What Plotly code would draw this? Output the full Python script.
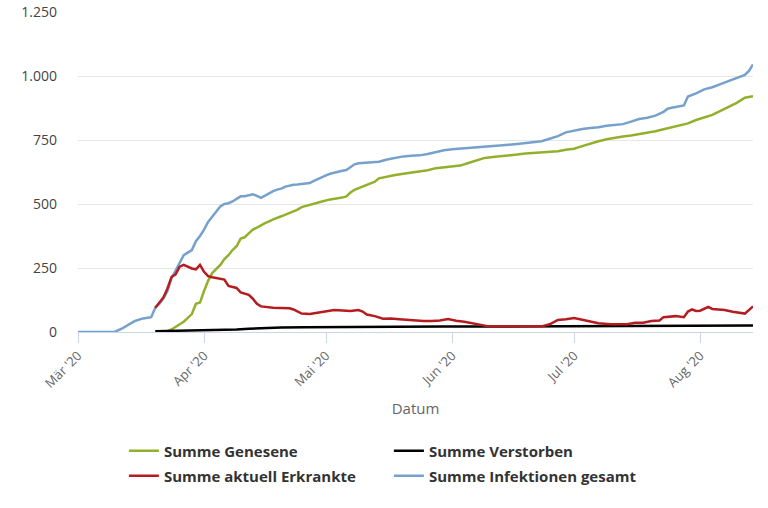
import pandas as pd
import plotly.graph_objects as go

# Tage seit dem 1. März 2020 (Tag 0 = 01.03.2020)
START = pd.Timestamp("2020-03-01")

infektionen_tag = [0, 9, 11, 12, 14, 16, 17, 18, 19, 20, 21, 22, 23, 24, 25, 26, 27, 28, 29, 30,
                   31, 32, 33, 34, 35, 36, 37, 38, 39, 40, 41, 42, 43, 44, 45, 46, 47, 48, 49, 50,
                   51, 52, 53, 54, 55, 56, 57, 58, 59, 60, 61, 62, 63, 64, 65, 66, 67, 68, 69, 70,
                   72, 74, 76, 78, 80, 82, 84, 86, 88, 90, 92, 94, 96, 98, 100, 102, 104, 106, 108,
                   110, 112, 114, 116, 118, 120, 122, 124, 126, 128, 130, 132, 134, 136, 138, 140,
                   142, 144, 145, 146, 148, 149, 150, 151, 152, 154, 156, 158, 160, 162, 164, 165, 166]
infektionen_wert = [0, 0, 15, 25, 43, 53, 55, 58, 95, 110, 131, 160, 210, 240, 275, 300, 310, 320, 355, 375,
                    400, 430, 450, 470, 490, 500, 503, 510, 520, 530, 530, 535, 538, 532, 524, 533, 542, 550, 556, 560,
                    568, 573, 575, 576, 578, 580, 582, 590, 598, 605, 612, 618, 623, 626, 630, 633, 645, 655, 659, 660,
                    661, 665, 674, 680, 686, 688, 690, 695, 703, 710, 714, 716, 720, 721, 723, 725, 727, 731, 734,
                    737, 740, 745, 755, 765, 780, 788, 793, 797, 800, 806, 810, 812, 822, 832, 837,
                    845, 860, 872, 876, 882, 885, 920, 926, 932, 948, 956, 968, 980, 990, 1004, 1020, 1045]

genesene_tag = [21, 22, 23, 24, 25, 26, 27, 28, 29, 30, 31, 32, 33, 34, 35, 36, 37, 38, 39, 40,
                41, 42, 43, 44, 45, 46, 47, 48, 50, 52, 54, 55, 56, 58, 60, 62, 64, 65, 66, 67,
                68, 70, 72, 73, 74, 76, 78, 80, 82, 84, 86, 88, 90, 92, 94, 96, 98, 100, 102, 104,
                106, 108, 110, 112, 114, 116, 118, 120, 122, 124, 126, 128, 130, 132, 134, 136, 138,
                140, 142, 144, 146, 148, 150, 152, 154, 156, 158, 160, 162, 164, 166]
genesene_wert = [0, 3, 10, 20, 30, 40, 55, 70, 110, 115, 160, 200, 230, 245, 262, 285, 300, 320, 335, 365,
                 370, 385, 400, 408, 418, 425, 432, 440, 452, 465, 478, 488, 493, 502, 510, 518, 521, 525, 530, 545,
                 555, 568, 580, 587, 600, 608, 613, 618, 622, 626, 632, 640, 643, 645, 650, 660, 670, 680, 684, 686,
                 690, 693, 697, 699, 701, 703, 706, 712, 716, 726, 737, 745, 753, 760, 764, 768, 773,
                 780, 784, 792, 800, 806, 815, 828, 838, 848, 864, 880, 895, 915, 921]

erkrankte_tag = [19, 20, 21, 22, 23, 24, 25, 26, 27, 28, 29, 30, 31, 32, 33, 34, 35, 36, 37, 38,
                 39, 40, 41, 42, 43, 44, 45, 46, 48, 50, 52, 53, 55, 57, 59, 61, 63, 65, 67, 69,
                 70, 71, 73, 75, 77, 79, 81, 83, 85, 87, 89, 91, 93, 95, 97, 99, 101, 105, 110, 114,
                 116, 118, 120, 122, 124, 126, 128, 131, 135, 137, 139, 141, 143, 144, 147, 149, 150,
                 151, 152, 153, 155, 156, 159, 161, 163, 164, 166]
erkrankte_wert = [95, 115, 135, 170, 215, 225, 255, 262, 255, 248, 245, 262, 235, 218, 214, 210, 207, 205, 180, 175,
                  172, 155, 150, 145, 130, 110, 100, 98, 95, 94, 93, 88, 72, 70, 76, 82, 86, 84, 82, 86,
                  80, 68, 62, 52, 53, 50, 47, 44, 43, 43, 45, 51, 44, 40, 33, 26, 22, 22, 21, 22,
                  30, 47, 50, 55, 48, 40, 34, 30, 30, 36, 36, 43, 45, 58, 62, 58, 80,
                  88, 82, 83, 98, 90, 86, 79, 73, 72, 100]

verstorben_tag = [19, 25, 31, 36, 39, 42, 46, 50, 56, 66, 90, 120, 150, 166]
verstorben_wert = [3, 5, 6, 7, 10, 13, 16, 18, 19, 20, 21, 22, 23, 25]

monats_ticks = ["2020-03-01", "2020-04-01", "2020-05-01", "2020-06-01", "2020-07-01", "2020-08-01"]
monats_labels = ["Mär '20", "Apr '20", "Mai '20", "Jun '20", "Jul '20", "Aug '20"]
y_ticks = [0, 250, 500, 750, 1000, 1250]
y_labels = ["0", "250", "500", "750", "1.000", "1.250"]


def to_dates(tage):
    return [START + pd.Timedelta(days=t) for t in tage]


serien = [
    # name, tage, werte, farbe, legende, rang
    ("Summe Infektionen gesamt", infektionen_tag, infektionen_wert, "#76a1cc", "legend2", 2),
    ("Summe Genesene", genesene_tag, genesene_wert, "#92b02c", "legend", 1),
    ("Summe Verstorben", verstorben_tag, verstorben_wert, "#000000", "legend", 2),
    ("Summe aktuell Erkrankte", erkrankte_tag, erkrankte_wert, "#b51c20", "legend2", 1),
]

fig = go.Figure()
for name, tage, werte, farbe, leg, rank in serien:
    fig.add_trace(go.Scatter(
        x=to_dates(tage), y=werte, name=name, mode="lines",
        line=dict(color=farbe, width=2.5), legend=leg, legendrank=rank,
    ))

FONT = "Open Sans"
LEG_X = 0.068
leg_common = dict(
    orientation="h", x=LEG_X, xanchor="left", yanchor="middle",
    entrywidth=220, entrywidthmode="pixels",
    font=dict(family=FONT, size=15, color="#333333", weight="bold"),
    itemwidth=30, bgcolor="rgba(0,0,0,0)",
)

fig.update_layout(
    width=768, height=508,
    margin=dict(l=78, r=15, t=12, b=176, autoexpand=False),
    plot_bgcolor="white", paper_bgcolor="white",
    font=dict(family=FONT, color="#444444", size=13),
    showlegend=True,
    legend=dict(leg_common, y=-0.372),
    legend2=dict(leg_common, y=-0.45),
    xaxis=dict(
        type="date", automargin=False,
        range=[START, START + pd.Timedelta(days=166)],
        tickvals=monats_ticks, ticktext=monats_labels, tickangle=-45,
        ticks="outside", ticklen=10, tickcolor="#ccd6eb",
        showline=True, linecolor="#ccd6eb", linewidth=1,
        showgrid=False, zeroline=False,
        tickfont=dict(family=FONT, size=13, color="#666666"),
        ticklabeloverflow="allow",
        title=dict(text="Datum", font=dict(family=FONT, size=15, color="#666666"), standoff=12),
    ),
    yaxis=dict(
        range=[0, 1250], automargin=False,
        tickvals=y_ticks, ticktext=y_labels,
        showgrid=True, gridcolor="#e6e6e6", gridwidth=1,
        zeroline=False, showline=False, ticks="",
        ticklabelstandoff=20, ticklabeloverflow="allow",
        tickfont=dict(family=FONT, size=14, color="#444444"),
    ),
)

fig.write_html(
    "out.html",
    config={"displayModeBar": False},
    post_script="document.body.style.margin='0';",
)
